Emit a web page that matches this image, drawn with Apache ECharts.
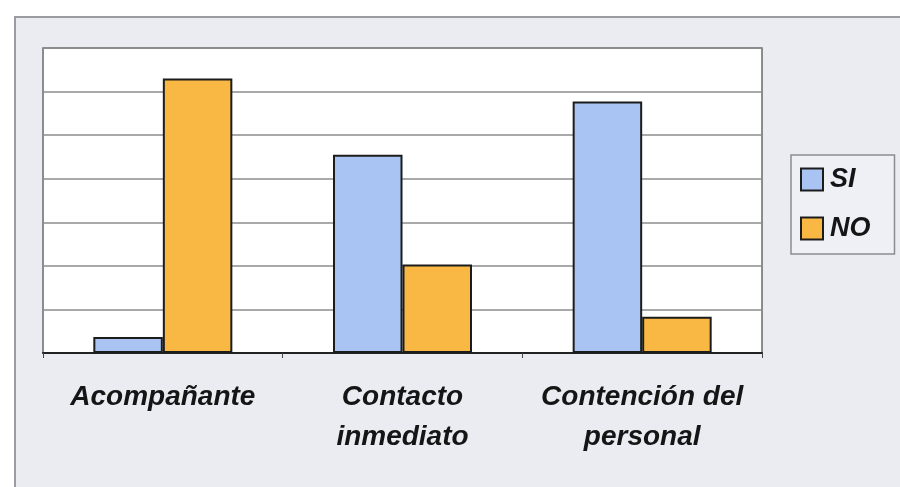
<!DOCTYPE html>
<html>
<head>
<meta charset="utf-8">
<script src="https://cdn.jsdelivr.net/npm/echarts@6/dist/echarts.min.js"></script>
<style>
  html, body { margin: 0; padding: 0; background: #fff; }
  .frame {
    position: absolute; left: 14px; top: 16px; width: 900px; height: 480px;
    background: #eaecf2; border-left: 2px solid #9a9ca4; border-top: 2px solid #9a9ca4;
  }
  #chart { position: absolute; left: 0; top: 0; width: 900px; height: 487px; }
</style>
</head>
<body>
<div class="frame"></div>
<div id="chart"></div>
<script>
// categorías y valores (escala 0-7 sin etiquetas)
const categories = ['Acompañante', 'Contacto\ninmediato', 'Contención del\npersonal']
const siValues = [0.37, 4.55, 5.77]
const noValues = [6.3, 2.03, 0.83]
const seriesNames = ['SI', 'NO']

const chart = echarts.init(document.getElementById('chart'))

const barStyle = color => ({
  color: color,
  borderColor: '#1c1c1c',
  borderWidth: 2
})

chart.setOption({
  backgroundColor: 'transparent',
  animation: false,
  textStyle: { fontFamily: 'Liberation Sans, Arial, sans-serif' },
  legend: {
    data: seriesNames,
    orient: 'vertical',
    left: 791,
    top: 155,
    padding: [11, 24, 12, 9],
    itemWidth: 22,
    itemHeight: 22,
    itemGap: 22,
    icon: 'rect',
    backgroundColor: '#eef0f5',
    borderColor: '#8a8c94',
    borderWidth: 1.5,
    textStyle: {
      fontSize: 27,
      fontStyle: 'italic',
      fontWeight: 'bold',
      color: '#151515',
      padding: [0, 0, 0, 2]
    }
  },
  grid: {
    left: 43,
    right: 138,
    top: 48,
    bottom: 134,
    show: true,
    backgroundColor: '#fff',
    borderColor: '#6a6a6a',
    borderWidth: 1.5
  },
  xAxis: {
    type: 'category',
    data: categories,
    axisLine: { lineStyle: { color: '#222', width: 2 } },
    axisTick: { show: true, length: 5, lineStyle: { color: '#444' } },
    axisLabel: {
      interval: 0,
      fontSize: 28,
      fontStyle: 'italic',
      fontWeight: 'bold',
      color: '#151515',
      lineHeight: 40,
      margin: 24
    }
  },
  yAxis: {
    type: 'value',
    min: 0,
    max: 7,
    interval: 1,
    axisLabel: { show: false },
    axisLine: { show: false },
    axisTick: { show: false },
    splitLine: { lineStyle: { color: '#8c8c8c', width: 1.5 } }
  },
  series: [
    {
      name: seriesNames[0],
      type: 'bar',
      data: siValues,
      itemStyle: barStyle('#a9c4f3'),
      barGap: '0%',
      barCategoryGap: '42%'
    },
    {
      name: seriesNames[1],
      type: 'bar',
      data: noValues,
      itemStyle: barStyle('#f8b843'),
      barGap: '0%',
      barCategoryGap: '42%'
    }
  ]
})
</script>
</body>
</html>
